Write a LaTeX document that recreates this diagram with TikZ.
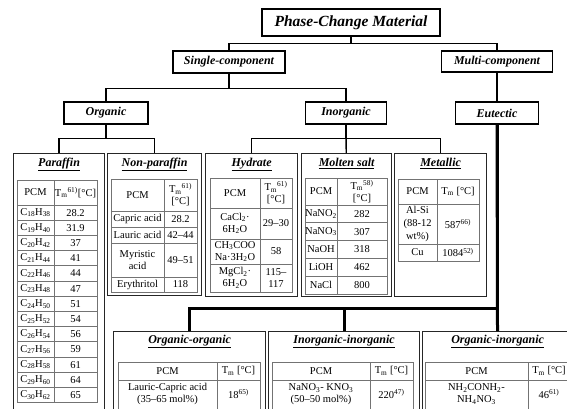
\documentclass[tikz,border=0pt]{standalone}
\usepackage{fontspec}
\setmainfont{Liberation Serif}
\usetikzlibrary{positioning}

\begin{document}
\begin{tikzpicture}[x=1pt, y=-1pt,
    lvlbox/.style={draw, line width=1.2pt, inner sep=0pt, minimum height=22pt,
        font=\fontsize{12}{14}\selectfont\bfseries\itshape},
    catbox/.style={draw=black!85, line width=1.2pt, anchor=north west, inner sep=0pt},
    cattitle/.style={font=\fontsize{12}{14}\selectfont\bfseries\itshape, inner sep=0pt},
    tree/.style={line width=1.4pt},
    eutline/.style={line width=3pt},
    tabline/.style={draw=black!55, line width=0.8pt},
    cell/.style={font=\fontsize{10.5}{12}\selectfont, align=center, inner sep=0pt},
]

    \useasboundingbox (0,0) rectangle (567,408);

    % hierarchy
    \node[lvlbox, minimum width=178pt, minimum height=27pt,
        font=\fontsize{15.5}{18}\selectfont\bfseries\itshape] (pcm) at (351,22.5) {Phase-Change Material};
    \node[lvlbox, minimum width=112pt] (single) at (229,62) {Single-component};
    \node[lvlbox, minimum width=111pt, minimum height=21pt] (multi) at (497,61.5) {Multi-component};
    \node[lvlbox, minimum width=84pt] (org) at (106,113) {Organic};
    \node[lvlbox, minimum width=81pt] (inorg) at (346,113) {Inorganic};
    \node[lvlbox, minimum width=83pt] (eut) at (497,113) {Eutectic};

    \node[catbox, minimum width=91pt, minimum height=256pt] (paraf) at (13,153) {};
    \node[catbox, minimum width=94pt, minimum height=142pt] (nonpar) at (107,153) {};
    \node[catbox, minimum width=92pt, minimum height=143pt] (hyd) at (205,153) {};
    \node[catbox, minimum width=90pt, minimum height=143pt] (molt) at (301,153) {};
    \node[catbox, minimum width=92pt, minimum height=143pt] (metal) at (394,153) {};
    \node[catbox, minimum width=152pt, minimum height=80pt] (oo) at (113,331) {};
    \node[catbox, minimum width=151pt, minimum height=80pt] (ii) at (268,331) {};
    \node[catbox, minimum width=150pt, minimum height=80pt] (oi) at (422,331) {};

    \node[cattitle, below=5pt of paraf.north] (paraf-t) {\underline{Paraffin}};
    \node[cattitle, below=5pt of nonpar.north] (nonpar-t) {\underline{Non-paraffin}};
    \node[cattitle, below=5pt of hyd.north] (hyd-t) {\underline{Hydrate}};
    \node[cattitle, below=5pt of molt.north] (molt-t) {\underline{Molten salt}};
    \node[cattitle, below=5pt of metal.north] (metal-t) {\underline{Metallic}};
    \node[cattitle, below=4pt of oo.north] (oo-t) {\underline{Organic-organic}};
    \node[cattitle, below=4pt of ii.north] (ii-t) {\underline{Inorganic-inorganic}};
    \node[cattitle, below=4pt of oi.north] (oi-t) {\underline{Organic-inorganic}};

    \draw[tree] (pcm.south) -- ++(0,7) -| (single.north);
    \draw[tree] (pcm.south) ++(0,7) -| (multi.north);
    \draw[tree] (multi) -- (eut);
    \draw[tree] (single.south) -- ++(0,15) -| (org.north);
    \draw[tree] (single.south) ++(0,15) -| (inorg.north);
    \draw[tree] (org.south) -- ++(0,14) -| (paraf.north);
    \draw[tree] (org.south) ++(0,14) -| (nonpar.north);
    \draw[tree] (inorg.south) -- ++(0,14) -| (hyd.north);
    \draw[tree] (inorg.south) ++(0,14) -| (metal.north);
    \draw[tree] (inorg) -- (molt);
    \draw[eutline] (eut.south) -- ++(0,184) -| (oo.north);
    \draw[eutline] (eut.south) ++(0,184) -| (ii.north);
    \draw[eutline] (eut) -- (oi);

    % Paraffin
    \draw[tabline] (17,180) rectangle (97,402.6) (54,180) -- (54,402.6);
    \foreach \i in {0,...,12} \draw[tabline] (17,205+15.2*\i) -- (97,205+15.2*\i);
    \node[cell] (p-h1) at (35.5,192.5) {PCM};
    \node[cell] (p-h2) at (75.5,192.5) {T\textsubscript{m}\textsuperscript{61)}[°C]};
    \foreach \cn/\hn/\tm [count=\i] in {18/38/28.2, 19/40/31.9, 20/42/37, 21/44/41, 22/46/44,
        23/48/47, 24/50/51, 25/52/54, 26/54/56, 27/56/59, 28/58/61, 29/60/64, 30/62/65} {
        \node[cell] (p-a\i) at (35.5,197.4+15.2*\i) {C\textsubscript{\cn}H\textsubscript{\hn}};
        \node[cell] (p-b\i) at (75.5,197.4+15.2*\i) {\tm};
    }

    % Non-paraffin
    \draw[tabline] (111,179) rectangle (197,292) (164,179) -- (164,292);
    \foreach \yy in {211,227,243,277} \draw[tabline] (111,\yy) -- (197,\yy);
    \node[cell] (n-h1) at (137.5,195) {PCM};
    \node[cell] (n-h2) at (180.5,195) {T\textsubscript{m}\textsuperscript{61)}\\{}[°C]};
    \node[cell] (n-a1) at (137.5,219) {Capric acid};
    \node[cell] (n-b1) at (180.5,219) {28.2};
    \node[cell] (n-a2) at (137.5,235) {Lauric acid};
    \node[cell] (n-b2) at (180.5,235) {42--44};
    \node[cell] (n-a3) at (137.5,260) {Myristic\\acid};
    \node[cell] (n-b3) at (180.5,260) {49--51};
    \node[cell] (n-a4) at (137.5,284.5) {Erythritol};
    \node[cell] (n-b4) at (180.5,284.5) {118};

    % Hydrate
    \draw[tabline] (210,178) rectangle (292,292) (260,178) -- (260,292);
    \foreach \yy in {208,239,264} \draw[tabline] (210,\yy) -- (292,\yy);
    \node[cell] (h-h1) at (235,193) {PCM};
    \node[cell] (h-h2) at (276,193) {T\textsubscript{m}\textsuperscript{61)}\\{}[°C]};
    \node[cell] (h-a1) at (235,223.5) {CaCl\textsubscript{2}·\\6H\textsubscript{2}O};
    \node[cell] (h-b1) at (276,223.5) {29--30};
    \node[cell] (h-a2) at (235,251.5) {CH\textsubscript{3}COO\\Na·3H\textsubscript{2}O};
    \node[cell] (h-b2) at (276,251.5) {58};
    \node[cell] (h-a3) at (235,278) {MgCl\textsubscript{2}·\\6H\textsubscript{2}O};
    \node[cell] (h-b3) at (276,278) {115--\\117};

    % Molten salt
    \draw[tabline] (305,178) rectangle (387,294) (337,178) -- (337,294);
    \foreach \i in {0,...,4} \draw[tabline] (305,205+17.8*\i) -- (387,205+17.8*\i);
    \node[cell] (m-h1) at (321,191.5) {PCM};
    \node[cell] (m-h2) at (362,191.5) {T\textsubscript{m}\textsuperscript{58)}\\{}[°C]};
    \foreach \sl/\tm [count=\i] in {NaNO\textsubscript{2}/282, NaNO\textsubscript{3}/307,
        NaOH/318, LiOH/462, NaCl/800} {
        \node[cell] (m-a\i) at (321,196.1+17.8*\i) {\sl};
        \node[cell] (m-b\i) at (362,196.1+17.8*\i) {\tm};
    }

    % Metallic
    \draw[tabline] (398,179) rectangle (479,261) (437,179) -- (437,261);
    \foreach \yy in {204,244} \draw[tabline] (398,\yy) -- (479,\yy);
    \node[cell] (t-h1) at (417.5,191.5) {PCM};
    \node[cell] (t-h2) at (458,191.5) {T\textsubscript{m} [°C]};
    \node[cell, font=\fontsize{10.5}{13}\selectfont] (t-a1) at (417.5,224) {Al-Si\\(88-12\\wt\%)};
    \node[cell] (t-b1) at (458,224) {587\textsuperscript{66)}};
    \node[cell] (t-a2) at (417.5,252.5) {Cu};
    \node[cell] (t-b2) at (458,252.5) {1084\textsuperscript{52)}};

    % eutectic tables
    \draw[tabline] (118,362) rectangle (260,412) (217,362) -- (217,412) (118,380) -- (260,380);
    \node[cell] (o-h1) at (167.5,371) {PCM};
    \node[cell] (o-h2) at (238.5,371) {T\textsubscript{m} [°C]};
    \node[cell] (o-a1) at (167.5,394) {Lauric-Capric acid\\(35--65 mol\%)};
    \node[cell] (o-b1) at (238.5,394) {18\textsuperscript{65)}};

    \draw[tabline] (272,362) rectangle (413,412) (370,362) -- (370,412) (272,380) -- (413,380);
    \node[cell] (i-h1) at (321,371) {PCM};
    \node[cell] (i-h2) at (391.5,371) {T\textsubscript{m} [°C]};
    \node[cell] (i-a1) at (321,394) {NaNO\textsubscript{3}- KNO\textsubscript{3}\\(50--50 mol\%)};
    \node[cell] (i-b1) at (391.5,394) {220\textsuperscript{47)}};

    \draw[tabline] (425,362) rectangle (570,412) (528,362) -- (528,412) (425,380) -- (570,380);
    \node[cell] (x-h1) at (476.5,371) {PCM};
    \node[cell] (x-h2) at (549,371) {T\textsubscript{m} [°C]};
    \node[cell] (x-a1) at (476.5,394) {NH\textsubscript{2}CONH\textsubscript{2}-\\NH\textsubscript{4}NO\textsubscript{3}};
    \node[cell] (x-b1) at (549,394) {46\textsuperscript{61)}};

\end{tikzpicture}
\end{document}
